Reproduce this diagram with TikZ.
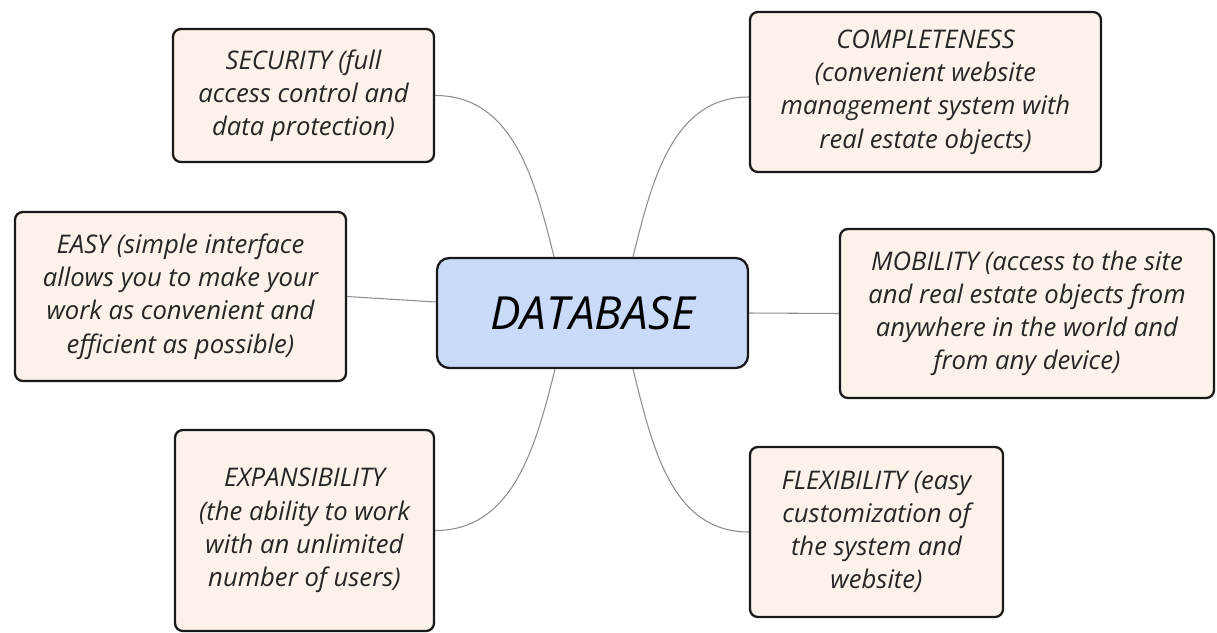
\documentclass[tikz,border=0pt]{standalone}
\usepackage{fontspec}
\setmainfont{Open Sans}
\usepackage{tikz}
\definecolor{notefill}{HTML}{FBF3EA}
\definecolor{hubfill}{HTML}{C9DBF8}
\definecolor{linkgray}{HTML}{8E8E8E}

\tikzset{
  idea/.style={draw=black!90, line width=1.3pt, rounded corners=4.5pt,
    fill=notefill, align=center, inner sep=0pt, text=black!85,
    font=\itshape\fontsize{14.6}{18.9}\selectfont},
  hub/.style={idea, fill=hubfill, rounded corners=7pt, text=black,
    font=\itshape\fontsize{26}{30}\selectfont},
  link/.style={draw=linkgray, line width=0.6pt}
}

\begin{document}
\begin{tikzpicture}
  \useasboundingbox (0,0) rectangle (24.34,-12.64);

  % centre
  \node[hub, minimum width=6.22cm, minimum height=2.2cm] (db) at (11.85,-6.26) {DATABASE};

  % left column
  \node[idea, minimum width=5.22cm, minimum height=2.66cm] (sec) at (6.07,-1.91)
    {SECURITY (full\\access control and\\data protection)};
  \node[idea, minimum width=6.62cm, minimum height=3.38cm] (easy) at (3.61,-5.93)
    {EASY (simple interface\\allows you to make your\\work as convenient and\\efficient as possible)};
  \node[idea, minimum width=5.18cm, minimum height=4.02cm] (exp) at (6.09,-10.61)
    {EXPANSIBILITY\\(the ability to work\\with an unlimited\\number of users)};

  % right column
  \node[idea, minimum width=7.02cm, minimum height=3.2cm] (comp) at (18.51,-1.84)
    {COMPLETENESS\\(convenient website\\management system with\\real estate objects)};
  \node[idea, minimum width=7.48cm, minimum height=3.38cm] (mob) at (20.54,-6.27)
    {MOBILITY (access to the site\\and real estate objects from\\anywhere in the world and\\from any device)};
  \node[idea, minimum width=5.06cm, minimum height=3.4cm] (flex) at (17.53,-10.64)
    {FLEXIBILITY (easy\\customization of\\the system and\\website)};

  % branches
  \draw[link] (sec.east) to[out=0, in=104] ([xshift=-0.77cm]db.north);
  \draw[link] ([yshift=-0.1cm]comp.west) to[out=180, in=76] ([xshift=0.81cm]db.north);
  \draw[link] (easy.east) -- ([yshift=0.22cm]db.west);
  \draw[link] (db.east) -- (mob.west);
  \draw[link] (exp.east) to[out=0, in=-104] ([xshift=-0.75cm]db.south);
  \draw[link] (flex.west) to[out=180, in=-76] ([xshift=0.81cm]db.south);
\end{tikzpicture}
\end{document}
